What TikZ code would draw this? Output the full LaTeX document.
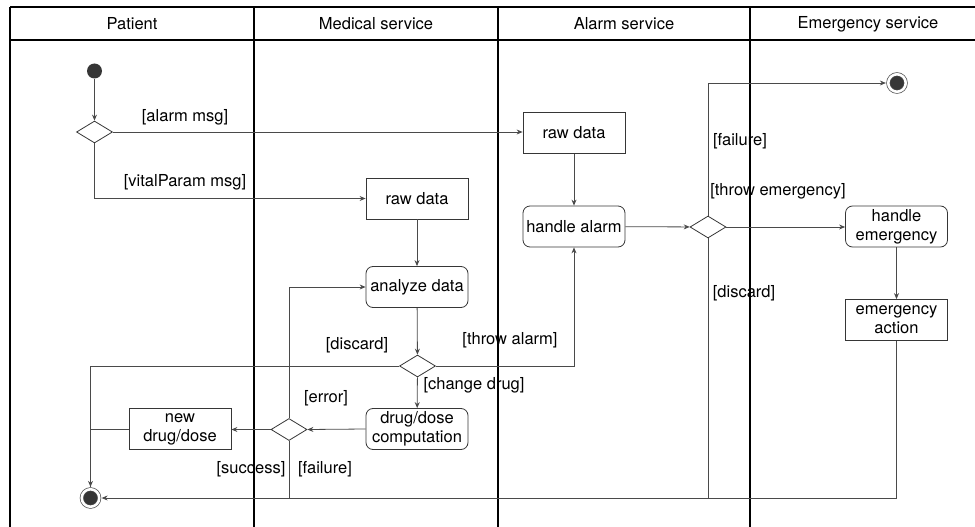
\documentclass[tikz,border=0pt]{standalone}
\usepackage{fontspec}
\setmainfont{TeX Gyre Heros}
\usepackage{xcolor}
\usetikzlibrary{arrows.meta,positioning,shapes.geometric,calc}
\definecolor{bk90}{HTML}{363636}
\definecolor{bk70}{HTML}{4A4A4A}
\tikzset{
  lane/.style={draw=black, line width=1.1pt},
  actbox/.style={
    rectangle, draw=bk90, line width=0.8pt, fill=white,
    minimum width=102pt, minimum height=41pt,
    font=\fontsize{16.5}{19}\selectfont, align=center,
    inner sep=2pt
  },
  actround/.style={actbox, rounded corners=7pt},
  decision/.style={diamond, draw=bk90, line width=0.8pt, fill=white,
    minimum width=36pt, minimum height=22pt, inner sep=0pt},
  startdot/.style={circle, fill=bk90, minimum size=15pt, inner sep=0pt},
  enddot/.style={circle, draw=bk70, fill=bk90, line width=0.7pt,
    double=white, double distance=2.6pt,
    minimum size=17.5pt, inner sep=0pt, outer sep=2.4pt},
  guard/.style={font=\fontsize{16.5}{19}\selectfont, inner sep=0pt},
  lanetitle/.style={font=\fontsize{16.5}{19}\selectfont},
  flow/.style={draw=bk70, line width=0.8pt},
  flowarrow/.style={flow, -{Stealth[length=6pt, width=5pt, inset=2pt]}},
}
\begin{document}
\begin{tikzpicture}[x=1pt, y=-1pt]
  \useasboundingbox (0,0) rectangle (975,527);
  % swimlanes
  \draw[lane] (10,7) -- (975,7);
  \draw[lane] (10,40) -- (975,40);
  \foreach \lx in {10,254,498,750}
    \draw[lane] (\lx,7) -- (\lx,527);
  \node[lanetitle] (hpatient) at (132,24) {Patient};
  \node[lanetitle] (hmedical) at (376,24) {Medical service};
  \node[lanetitle] (halarm) at (624,24) {Alarm service};
  \node[lanetitle] (hemerg) at (868,24) {Emergency service};

  % nodes
  \node[startdot] (start) at (94.5,71) {};
  \node[decision] (dmsg) at (94.5,132) {};
  \node[actbox] (alarmraw) at (574,133) {raw data};
  \node[actbox] (medraw) at (417,198.5) {raw data};
  \node[actround] (analyze) at (417,287) {analyze data};
  \node[decision] (dana) at (417.5,366) {};
  \node[actround] (drugcomp) at (417,429) {drug/dose\\computation};
  \node[decision] (ddrug) at (289,429.5) {};
  \node[actbox] (newdose) at (180,429) {new\\drug/dose};
  \node[enddot] (final) at (90.5,498) {};
  \node[actround] (handlealarm) at (574,226.5) {handle alarm};
  \node[decision] (dalarm) at (708,227) {};
  \node[actround] (handleemerg) at (896.5,226.5) {handle\\emergency};
  \node[actbox] (emergact) at (896.5,320) {emergency\\action};
  \node[enddot] (finalemerg) at (897,83) {};

  % guards
  \node[guard] (galarm) at (185,117) {[alarm msg]};
  \node[guard] (gvital) at (185,182) {[vitalParam msg]};
  \node[guard] (gdiscmed) at (357,345) {[discard]};
  \node[guard] (gthrowal) at (510,340) {[throw alarm]};
  \node[guard] (gchange) at (474,385) {[change drug]};
  \node[guard] (gerror) at (326,398) {[error]};
  \node[guard] (gsuccess) at (251,469) {[success]};
  \node[guard] (gfaillow) at (325,469) {[failure]};
  \node[guard] (gfailtop) at (740,141) {[failure]};
  \node[guard] (gthrowem) at (778,191) {[throw emergency]};
  \node[guard] (gdiscal) at (744,293) {[discard]};

  % flows
  \draw[flowarrow] (start) -- (dmsg);
  \draw[flowarrow] (dmsg.east) -- (dmsg.east -| alarmraw.west);
  \draw[flowarrow] (dmsg.south) |- (medraw.west);
  \draw[flowarrow] (medraw) -- (analyze);
  \draw[flowarrow] (analyze) -- (dana);
  \draw[flowarrow] (dana.west) -| (final.north);
  \draw[flowarrow] (dana.east) -| (handlealarm.south);
  \draw[flowarrow] (dana) -- (drugcomp);
  \draw[flowarrow] (drugcomp.west) -- (ddrug.east);
  \draw[flowarrow] (ddrug.north) |- (analyze.west);
  \draw[flowarrow] (ddrug.west) -- (ddrug.west -| newdose.east);
  \draw[flow] (newdose.west) -| (final.north);
  \draw[flow] (ddrug.south) -- (ddrug |- final);
  \draw[flowarrow] (alarmraw) -- (handlealarm);
  \draw[flowarrow] (handlealarm) -- (dalarm);
  \draw[flowarrow] (dalarm.east) -- (dalarm.east -| handleemerg.west);
  \draw[flowarrow] (handleemerg) -- (emergact);
  \draw[flowarrow] (dalarm.north) |- (finalemerg.west);
  \draw[flow] (dalarm.south) -- (dalarm |- final);
  \draw[flowarrow] (emergact.south) |- (final.east);
\end{tikzpicture}
\end{document}
